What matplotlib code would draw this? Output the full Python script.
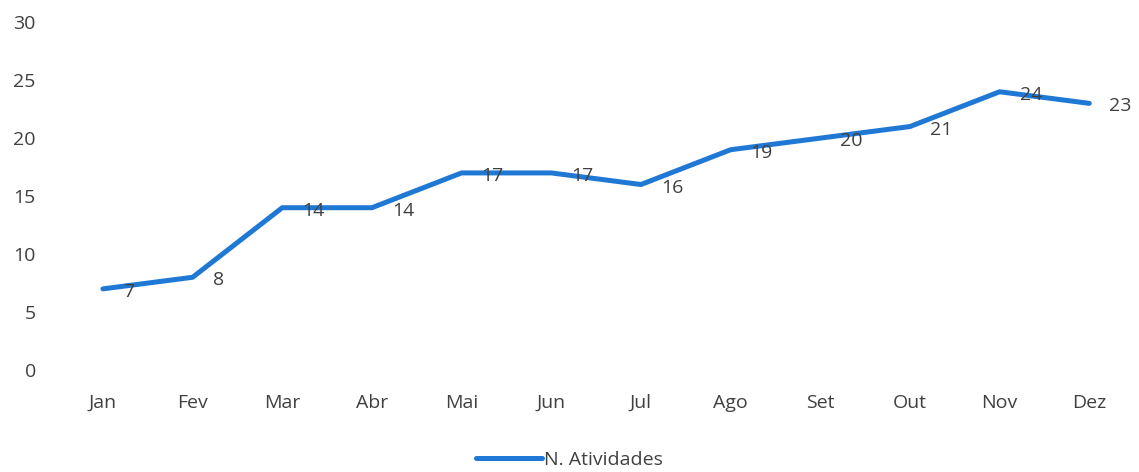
import matplotlib.pyplot as plt
import matplotlib as mpl
from matplotlib.transforms import offset_copy

mpl.rcParams["font.family"] = ["Open Sans", "DejaVu Sans"]

months = ["Jan", "Fev", "Mar", "Abr", "Mai", "Jun", "Jul", "Ago", "Set", "Out", "Nov", "Dez"]
atividades = [7, 8, 14, 14, 17, 17, 16, 19, 20, 21, 24, 23]
yticks = [0, 5, 10, 15, 20, 25, 30]

LINE_COLOR = "#1F78D4"
TEXT_COLOR = "#404040"
FS = 14

fig = plt.figure(figsize=(11.39, 4.72), dpi=100)
ax = fig.add_axes([0.051, 0.216, 0.9447, 0.737])

x = list(range(len(months)))
ax.plot(x, atividades, color=LINE_COLOR, lw=3.6, solid_capstyle="round",
        solid_joinstyle="round", label="N. Atividades")

for xi, v in zip(x, atividades):
    tr = offset_copy(ax.transData, fig=fig, x=20, y=-3, units="dots")
    ax.text(xi, v, str(v), transform=tr, ha="left", va="center",
            fontsize=FS, color=TEXT_COLOR)

ax.set_xlim(-0.5, 11.5)
ax.set_ylim(0, 30)
ax.set_xticks(x)
ax.set_xticklabels(months)
ax.set_yticks(yticks)
ax.tick_params(axis="both", length=0, labelsize=FS, labelcolor=TEXT_COLOR)
ax.tick_params(axis="x", pad=17)
ax.tick_params(axis="y", pad=16)
for s in ax.spines.values():
    s.set_visible(False)

fig.legend(loc="lower center", bbox_to_anchor=(0.5, -0.03), frameon=False,
           fontsize=FS, handlelength=3.4, handletextpad=0.1,
           labelcolor=TEXT_COLOR)

fig.savefig("out.png", dpi=100)
